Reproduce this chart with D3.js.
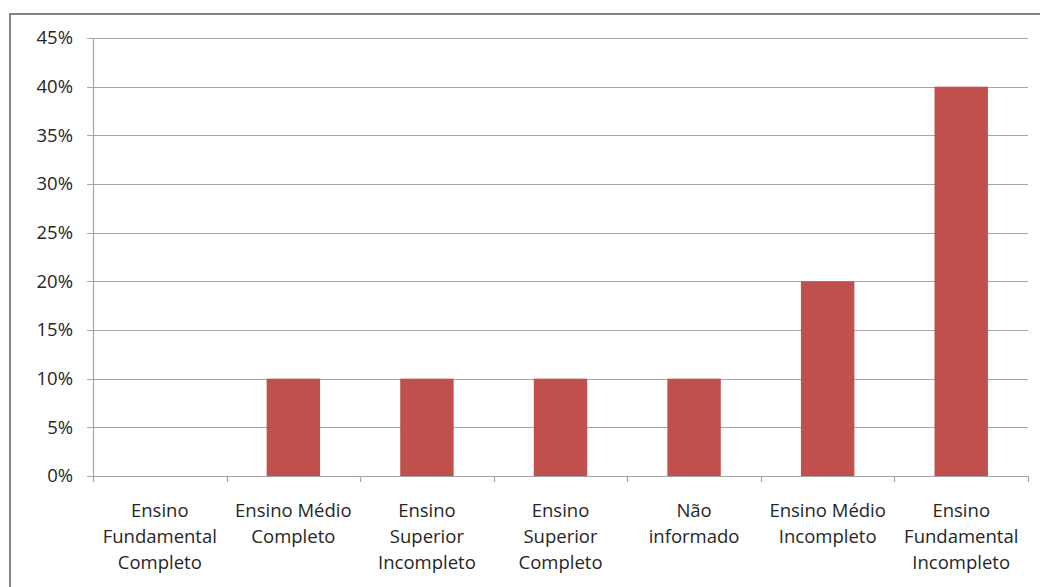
<!DOCTYPE html>
<html>
<head>
  <meta charset="utf-8">
  <script src="https://d3js.org/d3.v7.min.js"></script>
  <style>
    body { margin: 0; background: #fff; }
    text { font-family: "Open Sans", sans-serif; fill: #262626; }
  </style>
</head>
<body>
  <script>
    const categories = [
      "Ensino\nFundamental\nCompleto",
      "Ensino Médio\nCompleto",
      "Ensino\nSuperior\nIncompleto",
      "Ensino\nSuperior\nCompleto",
      "Não\ninformado",
      "Ensino Médio\nIncompleto",
      "Ensino\nFundamental\nIncompleto"
    ];
    const values = [0, 0.10, 0.10, 0.10, 0.10, 0.20, 0.40];
    const yTicks = [0, 0.05, 0.10, 0.15, 0.20, 0.25, 0.30, 0.35, 0.40, 0.45];

    const width = 1040, height = 587;
    const margin = { top: 38, right: 12, bottom: 111, left: 93 };

    const svg = d3.select("body").append("svg")
      .attr("width", width)
      .attr("height", height);

    // outer chart border
    svg.append("rect")
      .attr("x", 10).attr("y", 14)
      .attr("width", 1040).attr("height", 600)
      .attr("fill", "none")
      .attr("stroke", "#858585")
      .attr("stroke-width", 2);

    const x = d3.scaleBand()
      .domain(categories)
      .range([margin.left, width - margin.right]);

    const y = d3.scaleLinear()
      .domain([0, 0.45])
      .range([height - margin.bottom, margin.top]);

    // gridlines
    svg.append("g")
      .selectAll("line")
      .data(yTicks)
      .join("line")
      .attr("x1", margin.left - 6)
      .attr("x2", width - margin.right)
      .attr("y1", d => Math.round(y(d)) + 0.5)
      .attr("y2", d => Math.round(y(d)) + 0.5)
      .attr("stroke", "#a6a6a6")
      .attr("stroke-width", 1.2);

    // y labels
    svg.append("g")
      .selectAll("text")
      .data(yTicks)
      .join("text")
      .attr("x", margin.left - 20)
      .attr("y", d => y(d))
      .attr("dy", "0.35em")
      .attr("text-anchor", "end")
      .style("font-size", "18.5px")
      .text(d => d3.format(".0%")(d));

    // y axis line
    svg.append("line")
      .attr("x1", margin.left + 0.5).attr("x2", margin.left + 0.5)
      .attr("y1", y(0.45)).attr("y2", y(0))
      .attr("stroke", "#a6a6a6")
      .attr("stroke-width", 1.2);

    // x category ticks
    const edges = categories.map(c => x(c)).concat([x.range()[1]]);
    svg.append("g")
      .selectAll("line")
      .data(edges)
      .join("line")
      .attr("x1", d => Math.round(d) + 0.5)
      .attr("x2", d => Math.round(d) + 0.5)
      .attr("y1", y(0))
      .attr("y2", y(0) + 6)
      .attr("stroke", "#a6a6a6")
      .attr("stroke-width", 1.2);

    // bars
    const barW = x.bandwidth() * 0.4;
    svg.append("g")
      .selectAll("rect")
      .data(values)
      .join("rect")
      .attr("x", (d, i) => x(categories[i]) + (x.bandwidth() - barW) / 2)
      .attr("y", d => y(d))
      .attr("width", barW)
      .attr("height", d => y(0) - y(d))
      .attr("fill", "#c0504d");

    // category labels
    const lab = svg.append("g")
      .selectAll("text")
      .data(categories)
      .join("text")
      .attr("text-anchor", "middle")
      .style("font-size", "18.5px")
      .attr("transform", d => `translate(${x(d) + x.bandwidth() / 2},${y(0) + 41})`);

    lab.selectAll("tspan")
      .data(d => d.split("\n"))
      .join("tspan")
      .attr("x", 0)
      .attr("y", (d, i) => i * 26)
      .text(d => d);
  </script>
</body>
</html>
